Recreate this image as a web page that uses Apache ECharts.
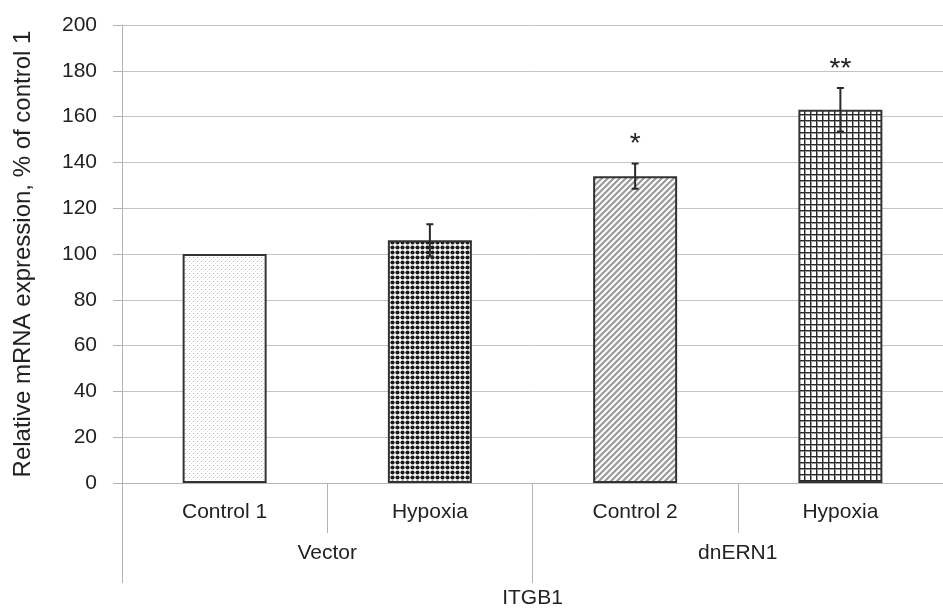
<!DOCTYPE html>
<html>
<head>
<meta charset="utf-8">
<script src="https://cdn.jsdelivr.net/npm/echarts@6/dist/echarts.min.js"></script>
<style>
html,body{margin:0;padding:0;background:#fff;}
#chart{width:943px;height:612px;}
</style>
</head>
<body>
<div id="chart"></div>
<script>
// ---- data ----
const categories = ['Control 1', 'Hypoxia', 'Control 2', 'Hypoxia'];
const groups = ['Vector', 'dnERN1'];
const gene = ['ITGB1'];
const values = [100, 106, 134, 163];
const errors = [0, 7, 5.5, 9.5];
const significance = ['', '', '*', '**'];
const yTicks = [0, 20, 40, 60, 80, 100, 120, 140, 160, 180, 200];

// ---- patterns ----
function makePattern(kind) {
  const c = document.createElement('canvas');
  const ctx = c.getContext('2d');
  if (kind === 'dots') {
    c.width = 4; c.height = 4;
    ctx.fillStyle = '#fff'; ctx.fillRect(0, 0, 4, 4);
    ctx.fillStyle = '#b4b4b4'; ctx.fillRect(1, 1, 1, 1);
    ctx.fillStyle = '#e4e4e4'; ctx.fillRect(3, 3, 1, 1);
  } else if (kind === 'diamond') {
    c.width = 5; c.height = 5;
    ctx.fillStyle = '#fff'; ctx.fillRect(0, 0, 5, 5);
    ctx.fillStyle = '#1a1a1a';
    ctx.beginPath(); ctx.arc(2.5, 2.5, 2.1, 0, Math.PI * 2); ctx.fill();
  } else if (kind === 'diag') {
    c.width = 6; c.height = 6;
    ctx.fillStyle = '#fff'; ctx.fillRect(0, 0, 6, 6);
    ctx.strokeStyle = '#9a9a9a'; ctx.lineWidth = 2.2;
    ctx.beginPath();
    ctx.moveTo(-1, 7); ctx.lineTo(7, -1);
    ctx.moveTo(-1, 1); ctx.lineTo(1, -1);
    ctx.moveTo(5, 7); ctx.lineTo(7, 5);
    ctx.stroke();
  } else if (kind === 'grid') {
    c.width = 6; c.height = 6;
    ctx.fillStyle = '#fff'; ctx.fillRect(0, 0, 6, 6);
    ctx.fillStyle = '#9a9a9a';
    ctx.fillRect(0, 1, 6, 1);
    ctx.fillRect(1, 0, 1, 6);
    ctx.fillStyle = '#2a2a2a';
    ctx.fillRect(0, 0, 6, 1);
    ctx.fillRect(0, 0, 1, 6);
  }
  return { image: c, repeat: 'repeat' };
}
const patterns = ['dots', 'diamond', 'diag', 'grid'].map(makePattern);

const FONT = '"Liberation Sans", Arial, sans-serif';
const TXT = '#222';
const chart = echarts.init(document.getElementById('chart'), null, { renderer: 'canvas' });

const errData = values.map((v, i) => [i, v, errors[i]]);

chart.setOption({
  animation: false,
  backgroundColor: '#fff',
  textStyle: { fontFamily: FONT },
  grid: { left: 122, top: 25, width: 830, bottom: 129, containLabel: false },
  xAxis: [
    {
      type: 'category',
      data: categories,
      position: 'bottom',
      axisLine: { show: true, lineStyle: { color: '#b4b4b4', width: 1 } },
      axisTick: { show: true, interval: 0, length: 50, lineStyle: { color: '#b4b4b4' } },
      axisLabel: { interval: 0, margin: 19, color: TXT, fontSize: 21, fontFamily: FONT },
      splitLine: { show: false }
    },
    {
      type: 'category',
      data: groups,
      position: 'bottom',
      offset: 0,
      axisLine: { show: false },
      axisTick: { show: true, interval: 0, length: 100, lineStyle: { color: '#b4b4b4' } },
      axisLabel: { interval: 0, margin: 60, color: TXT, fontSize: 21, fontFamily: FONT },
      splitLine: { show: false }
    },
    {
      type: 'category',
      data: gene,
      position: 'bottom',
      offset: 0,
      axisLine: { show: false },
      axisTick: { show: false },
      axisLabel: { interval: 0, margin: 105, color: TXT, fontSize: 21, fontFamily: FONT },
      splitLine: { show: false }
    }
  ],
  yAxis: {
    type: 'value',
    min: yTicks[0],
    max: yTicks[yTicks.length - 1],
    interval: yTicks[1] - yTicks[0],
    name: 'Relative mRNA expression, % of control 1',
    nameLocation: 'middle',
    nameGap: 87,
    nameTextStyle: { color: TXT, fontSize: 24, fontFamily: FONT },
    axisLine: { show: true, lineStyle: { color: '#b4b4b4', width: 1 } },
    axisTick: { show: true, length: 9, lineStyle: { color: '#b4b4b4' } },
    axisLabel: { margin: 25, color: TXT, fontSize: 21, fontFamily: FONT },
    splitLine: { show: true, lineStyle: { color: '#c4c4c4', width: 1 } }
  },
  series: [
    {
      type: 'bar',
      xAxisIndex: 0,
      barWidth: 84,
      data: values.map((v, i) => ({
        value: v,
        itemStyle: { color: patterns[i], borderColor: '#333', borderWidth: 2 }
      })),
      z: 2
    },
    {
      type: 'custom',
      xAxisIndex: 0,
      data: errData,
      z: 3,
      renderItem: function (params, api) {
        const idx = api.value(0);
        const m = api.value(1);
        const e = api.value(2);
        const top = api.coord([idx, m + e]);
        const bot = api.coord([idx, m - e]);
        const cap = 3.5;
        const children = [];
        const st = { stroke: '#2a2a2a', lineWidth: 2 };
        if (e > 0) {
          children.push({ type: 'line', shape: { x1: top[0], y1: top[1], x2: bot[0], y2: bot[1] }, style: st });
          children.push({ type: 'line', shape: { x1: top[0] - cap, y1: top[1], x2: top[0] + cap, y2: top[1] }, style: st });
          children.push({ type: 'line', shape: { x1: bot[0] - cap, y1: bot[1], x2: bot[0] + cap, y2: bot[1] }, style: st });
        }
        const s = significance[params.dataIndex];
        if (s) {
          children.push({
            type: 'text',
            style: {
              text: s, x: top[0], y: top[1] - 19,
              align: 'center', verticalAlign: 'middle',
              fontSize: 28, fontFamily: FONT, fill: TXT
            }
          });
        }
        return { type: 'group', children: children };
      }
    }
  ]
});
</script>
</body>
</html>
